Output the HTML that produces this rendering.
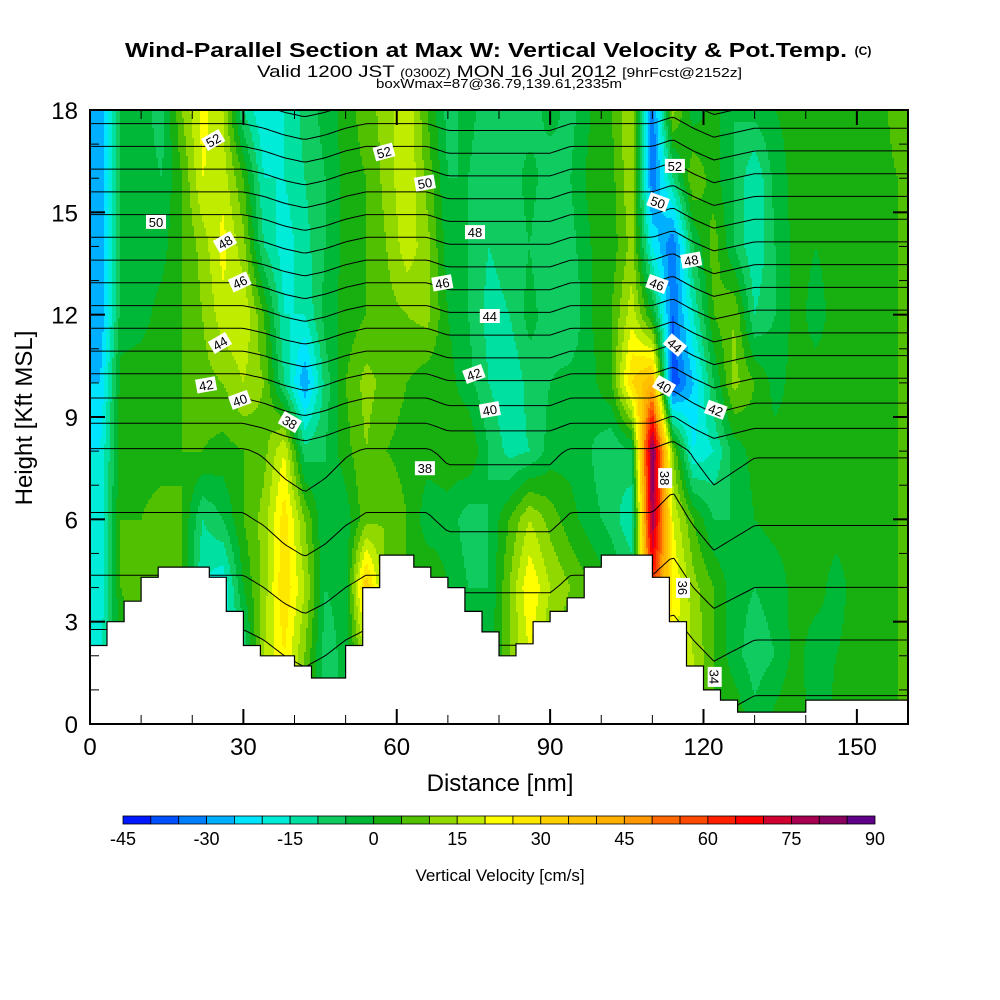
<!DOCTYPE html>
<html><head><meta charset="utf-8"><style>
body{margin:0;background:#fff;}
svg{display:block;font-family:"Liberation Sans",sans-serif;}
</style></head><body>
<svg id="chart" width="1000" height="1000" viewBox="0 0 1000 1000" xmlns="http://www.w3.org/2000/svg">
<rect x="0" y="0" width="1000" height="1000" fill="#fff"/>
<text x="125" y="57" font-size="20" font-weight="bold" textLength="722" lengthAdjust="spacingAndGlyphs">Wind-Parallel Section at Max W: Vertical Velocity &amp; Pot.Temp.</text>
<text x="863" y="55" font-size="12" font-weight="bold" text-anchor="middle">(C)</text>
<text x="257" y="77" font-size="17" textLength="485" lengthAdjust="spacingAndGlyphs">Valid 1200 JST <tspan font-size="12">(0300Z)</tspan> MON 16 Jul 2012 <tspan font-size="13">[9hrFcst@2152z]</tspan></text>
<text x="376" y="88" font-size="13" textLength="246" lengthAdjust="spacingAndGlyphs">boxWmax=87@36.79,139.61,2335m</text>
<g id="heat"></g>
<g id="contours"></g>
<g id="terrain"></g>
<g id="clabels"></g>
<g id="axes"></g>
<g id="cbar"></g>
<text x="500" y="791" font-size="24" text-anchor="middle">Distance [nm]</text>
<text transform="translate(32,418) rotate(-90)" font-size="24" text-anchor="middle">Height [Kft MSL]</text>
<text x="500" y="881" font-size="17" text-anchor="middle">Vertical Velocity [cm/s]</text>
</svg>
<script>
// ---- data ----
const colCenters = [2,6,10,14,18,22,26,30,34,38,42,46,50,54,58,62,66,70,74,78,82,86,90,94,98,102,106,110,114,118,122,126,130,134,138,142,146,150,154,158];
const w18 = [-30,-5,-2,-8,10,22,15,-10,-20,-15,-8,-3,2,8,12,20,5,-7,-3,-8,-5,-8,-3,-7,0,5,15,-35,12,-3,2,-5,-3,0,2,3,2,3,2,8];
const w16 = [-30,-5,-2,-5,5,20,18,5,-15,-15,-10,-5,2,5,12,20,8,-5,-5,-10,-8,-3,-8,-5,2,3,15,-35,-10,10,2,-5,-15,-3,2,0,3,2,2,5];
const w14 = [-30,-5,-3,-2,5,12,22,12,-10,-18,-12,-5,2,5,10,18,12,-3,-5,-10,-8,-5,-10,-7,0,2,12,-20,-35,-5,8,-5,-15,-5,2,0,2,2,2,5];
const w12 = [-30,-3,-2,2,5,10,18,20,5,-15,-15,-3,2,5,8,10,12,0,-5,-12,-10,-3,-8,-10,0,5,18,0,-35,-15,5,10,-10,-5,2,-2,2,2,2,5];
const w10 = [-25,2,3,3,5,8,10,15,10,-10,-30,-8,5,12,8,5,2,2,-3,-10,-15,-8,-5,-3,-2,5,30,40,-40,-25,-5,12,5,-2,2,2,2,2,2,5];
const w8  = [-20,3,2,2,5,5,3,5,8,20,-8,-5,3,10,5,3,2,3,5,-5,-12,-10,-3,-2,-5,-10,-5,85,10,-20,-15,-3,2,2,2,2,2,2,2,5];
const w6  = [-20,5,5,8,5,-10,-5,5,12,28,10,-5,-3,8,10,5,-3,-2,-8,-5,5,15,8,2,-3,-7,-15,80,20,5,-5,-5,0,2,2,2,2,2,2,5];
const w4  = [-20,5,10,10,5,-15,-20,0,12,30,15,-5,-3,35,8,5,5,0,-5,-5,10,25,15,10,5,0,-5,60,25,12,5,-3,-5,-3,2,2,-2,2,2,5];
const w2  = [-15,0,5,5,5,-10,-20,-10,15,25,10,-8,-3,15,5,5,5,0,-5,-3,10,20,10,5,5,0,-5,40,20,15,5,-3,-8,-5,2,-3,0,2,2,5];
const w0  = [-15,0,5,5,5,-10,-20,-10,15,25,10,-8,-3,15,5,5,5,0,-5,-3,10,20,10,5,5,0,-5,40,20,15,5,5,-3,2,5,-5,2,2,2,5];
const thetaBase = [33.3,34.5,35.8,36.9,37.9,40.6,43.6,46.6,49.6,52.6];
const thetaOffset = [0,0,0,0,0,0,0,0,0.2,0.5,0.7,0.5,0.2,0,0,0,0,0.3,0.3,0.3,0.3,0.3,0.3,0,0,0,0,0,-0.3,0.2,0.6,0.4,0.2,0.2,0.2,0.2,0.2,0.2,0.2,0.2];
const thetaLevels = [34,35,36,37,38,39,40,41,42,43,44,45,46,47,48,49,50,51,52,53];
const terrainH = [2.3,3.0,3.6,4.3,4.6,4.6,4.6,4.3,3.3,2.3,2.0,2.0,1.7,1.35,1.35,2.3,4.0,4.95,4.95,4.6,4.3,4.0,3.3,2.7,2.0,2.35,3.0,3.3,3.7,4.6,4.95,4.95,4.95,4.3,3.0,1.7,1.0,0.7,0.35,0.35,0.35,0.35,0.7,0.7,0.7,0.7,0.7,0.7];
const labelText = ["52","52","50","50","48","48","46","46","44","44","42","42","40","40","38","38","52","50","48","46","44","40","42","38","36","34"];
const labelX = [24.1,57.5,65.5,12.9,26.4,75.3,29.3,68.9,25.4,78.2,22.7,75.1,29.3,78.2,39.1,65.5,114.4,111.1,117.6,110.9,114.4,112.3,122.4,112.5,116.0,122.2];
const labelH = [17.12,16.77,15.86,14.72,14.13,14.42,12.96,12.93,11.17,11.96,9.94,10.26,9.50,9.21,8.85,7.50,16.36,15.30,13.60,12.90,11.11,9.91,9.21,7.21,3.99,1.38];
const labelRot = [-30,-15,-10,0,-30,0,-25,-10,-30,0,-10,-20,-20,-10,30,0,0,20,-10,20,40,30,20,90,90,90];
const palette = ["#0018ff","#0050ff","#0080ff","#00b0ff","#00e4ff","#00ecd8","#00e0a0","#10cc60","#00b838","#18b010","#50c000","#90d800","#c0ec00","#ffff00","#ffe800","#ffd000","#ffc000","#ffb000","#ff9800","#ff6800","#ff4800","#ff2000","#ff0000","#d00030","#a80050","#880060","#600088"];
const cbarTicks = [-45,-30,-15,0,15,30,45,60,75,90];
const xTicks = [0,30,60,90,120,150];
const yTicks = [0,3,6,9,12,15,18];

// ---- axes functions ----
const X0=90,X1=908,Y0=110,Y1=724,XMAX=160,HMAX=18;
function sx(x){return X0+x/XMAX*(X1-X0);}
function sy(h){return Y1-h/HMAX*(Y1-Y0);}
const NS="http://www.w3.org/2000/svg";
function mk(tag,attrs,parent){const e=document.createElementNS(NS,tag);for(const k in attrs)e.setAttribute(k,attrs[k]);parent.appendChild(e);return e;}
const wGrid=[w0,w2,w4,w6,w8,w10,w12,w14,w16,w18];
function interpCol(x){let c=(x-colCenters[0])/(colCenters[1]-colCenters[0]);c=Math.max(0,Math.min(colCenters.length-1,c));const i=Math.min(colCenters.length-2,Math.floor(c));return [i,c-i];}
function wAt(x,h){const [i,t]=interpCol(x);let r=h/2;r=Math.max(0,Math.min(9,r));const j=Math.min(8,Math.floor(r));const u=r-j;
 const a=wGrid[j][i]*(1-t)+wGrid[j][i+1]*t, b=wGrid[j+1][i]*(1-t)+wGrid[j+1][i+1]*t;return a*(1-u)+b*u;}
function thetaAt(x,h){const [i,t]=interpCol(x);let r=h/2;r=Math.max(0,Math.min(9,r));const j=Math.min(8,Math.floor(r));const u=r-j;
 return thetaBase[j]*(1-u)+thetaBase[j+1]*u + thetaOffset[i]*(1-t)+thetaOffset[i+1]*t;}
function colorFor(v){let k=Math.floor((v+45)/5);k=Math.max(0,Math.min(palette.length-1,k));return palette[k];}

// ---- heatmap ----
const heat=document.getElementById('heat');
const DX=2,DY=2;
for(let py=Y0;py<Y1;py+=DY){
  const h=(Y1-(py+DY/2))/(Y1-Y0)*HMAX;
  let runStart=X0,runCol=null;
  for(let px=X0;px<=X1;px+=DX){
    let col=null;
    if(px<X1){const x=(px+DX/2-X0)/(X1-X0)*XMAX;col=colorFor(wAt(x,h));}
    if(col!==runCol){
      if(runCol!==null){const r=mk('rect',{x:runStart,y:py,width:px-runStart+0.5,height:Math.min(DY+0.5,Y1-py),fill:runCol},heat);
        
        }
      runStart=px;runCol=col;
    }
  }
}

// ---- contours (marching squares) ----
const cont=document.getElementById('contours');
const CS=4;const nx=Math.ceil((X1-X0)/CS),ny=Math.ceil((Y1-Y0)/CS);
const tv=[];
for(let j=0;j<=ny;j++){tv.push([]);for(let i=0;i<=nx;i++){const px=Math.min(X1,X0+i*CS),py=Math.min(Y1,Y0+j*CS);
 tv[j].push(thetaAt((px-X0)/(X1-X0)*XMAX,(Y1-py)/(Y1-Y0)*HMAX));}}
thetaLevels.forEach(L=>{
  let d='';
  for(let j=0;j<ny;j++){
    for(let i=0;i<nx;i++){
      const x0=X0+i*CS,y0=Y0+j*CS,x1=Math.min(X1,x0+CS),y1=Math.min(Y1,y0+CS);
      const a=tv[j][i],b=tv[j][i+1],c=tv[j+1][i+1],e=tv[j+1][i];
      const pts=[];
      const edge=(v1,v2,p1x,p1y,p2x,p2y)=>{if((v1-L)*(v2-L)<0){const t=(L-v1)/(v2-v1);pts.push([p1x+(p2x-p1x)*t,p1y+(p2y-p1y)*t]);}};
      edge(a,b,x0,y0,x1,y0);edge(b,c,x1,y0,x1,y1);edge(c,e,x1,y1,x0,y1);edge(e,a,x0,y1,x0,y0);
      if(pts.length>=2)d+='M'+pts[0][0].toFixed(1)+' '+pts[0][1].toFixed(1)+'L'+pts[1][0].toFixed(1)+' '+pts[1][1].toFixed(1);
      if(pts.length===4)d+='M'+pts[2][0].toFixed(1)+' '+pts[2][1].toFixed(1)+'L'+pts[3][0].toFixed(1)+' '+pts[3][1].toFixed(1);
    }
  }
  if(d){
    const p=mk('path',{d:d,fill:'none',stroke:'#000','stroke-width':1},cont);
    
    
  }
});

// ---- terrain ----
const ter=document.getElementById('terrain');
const cw=XMAX/terrainH.length;
let td='M'+sx(0)+' '+sy(0);
terrainH.forEach((hv,k)=>{td+='L'+sx(k*cw).toFixed(1)+' '+sy(hv).toFixed(1)+'L'+sx((k+1)*cw).toFixed(1)+' '+sy(hv).toFixed(1);});
td+='L'+sx(XMAX)+' '+sy(0)+'Z';
const tp=mk('path',{d:td,fill:'#fff',stroke:'#000','stroke-width':1.2},ter);



// ---- contour labels ----
const cl=document.getElementById('clabels');
labelText.forEach((s,k)=>{
  const g=mk('g',{transform:'translate('+sx(labelX[k]).toFixed(1)+','+sy(labelH[k]).toFixed(1)+') rotate('+labelRot[k]+')'},cl);
  
  
  mk('rect',{x:-10,y:-7,width:20,height:14,fill:'#fff'},g);
  const t=mk('text',{x:0,y:5,'font-size':13,'text-anchor':'middle'},g);t.textContent=s;
});

// ---- axes ----
const ax=document.getElementById('axes');
const fr=mk('rect',{x:X0,y:Y0,width:X1-X0,height:Y1-Y0,fill:'none',stroke:'#000','stroke-width':2},ax);


for(let v=0;v<=XMAX;v+=10){const major=v%30===0;const L=major?15:9;
  mk('line',{x1:sx(v),x2:sx(v),y1:Y1,y2:Y1-L,stroke:'#000','stroke-width':major?2:1},ax);
  mk('line',{x1:sx(v),x2:sx(v),y1:Y0,y2:Y0+L,stroke:'#000','stroke-width':major?2:1},ax);}
for(let v=0;v<=HMAX;v+=1){const major=v%3===0;const L=major?15:9;
  mk('line',{x1:X0,x2:X0+L,y1:sy(v),y2:sy(v),stroke:'#000','stroke-width':major?2:1},ax);
  mk('line',{x1:X1,x2:X1-L,y1:sy(v),y2:sy(v),stroke:'#000','stroke-width':major?2:1},ax);}
xTicks.forEach(v=>{const t=mk('text',{x:sx(v),y:Y1+31,'font-size':24,'text-anchor':'middle'},ax);t.textContent=v;
  
  });
yTicks.forEach(v=>{const t=mk('text',{x:X0-12,y:sy(v)+9,'font-size':24,'text-anchor':'end'},ax);t.textContent=v;
  
  });

// ---- colorbar ----
const cb=document.getElementById('cbar');
const CB0=123,CB1=875,VMIN=-45,VMAX=90;
function cx(v){return CB0+(v-VMIN)/(VMAX-VMIN)*(CB1-CB0);}
palette.forEach((c,k)=>{const v=VMIN+k*5;const r=mk('rect',{x:cx(v),y:816,width:cx(v+5)-cx(v),height:8,fill:c,stroke:'#000','stroke-width':0.8},cb);
  
  });
cbarTicks.forEach(v=>{const t=mk('text',{x:cx(v),y:845,'font-size':18,'text-anchor':'middle'},cb);t.textContent=v;
  
  });
</script>
</body></html>
